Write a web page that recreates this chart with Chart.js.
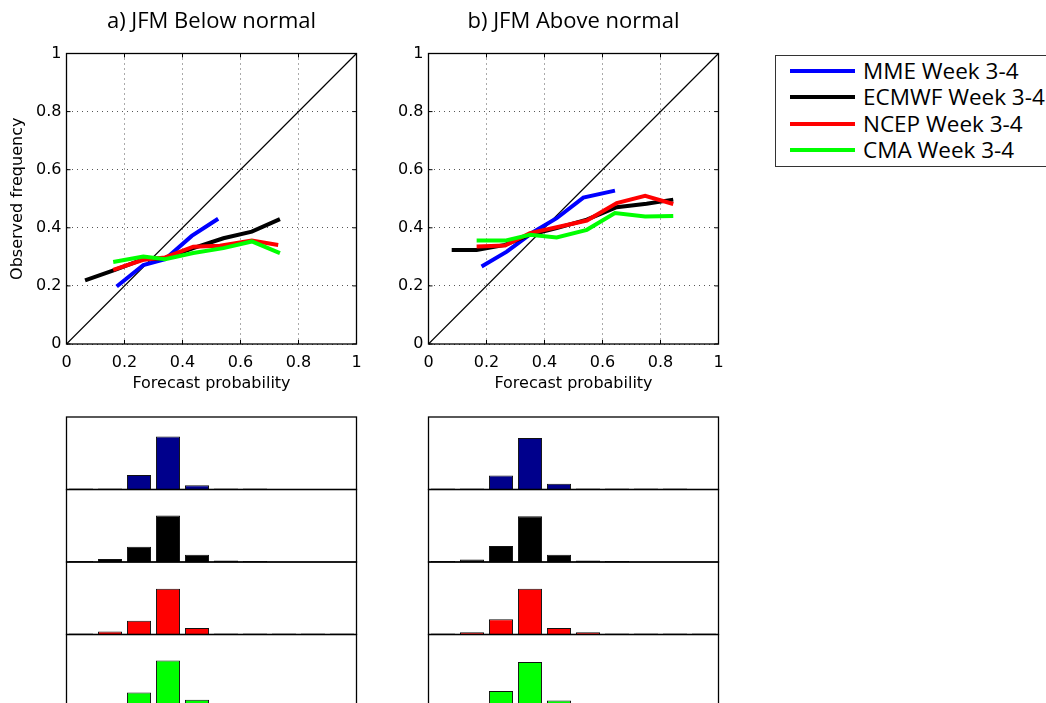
<!DOCTYPE html>
<html>
<head>
<meta charset="utf-8">
<script src="https://cdn.jsdelivr.net/npm/chart.js@4.4.1/dist/chart.umd.min.js"></script>
<style>
  body { margin: 0; background: #fff; width: 1046px; height: 703px; overflow: hidden; position: relative; }
  canvas { position: absolute; }
  #legend {
    position: absolute; left: 775px; top: 55px; width: 300px; height: 112px;
    border: 1px solid #333; box-sizing: border-box;
    font-family: 'Open Sans', sans-serif; font-size: 22.5px; color: #000;
  }
  #legend .row { position: absolute; left: 0; height: 26px; line-height: 26px; white-space: nowrap; }
  #legend .swatch { position: absolute; left: 14px; top: 11px; width: 65px; height: 4px; }
  #legend .label { position: absolute; left: 87px; top: 0; }
</style>
</head>
<body>
<canvas id="relBelow" width="380" height="400" style="left:0;top:0"></canvas>
<canvas id="relAbove" width="380" height="400" style="left:362px;top:0"></canvas>
<div id="legend"></div>

<script>
// Reliability curves: forecast probability (x) vs observed frequency (y)
const seriesNames = ['MME Week 3-4', 'ECMWF Week 3-4', 'NCEP Week 3-4', 'CMA Week 3-4'];
const lineColors = ['#0000ff', '#000000', '#ff0000', '#00ff00'];
const barColors = ['#00008c', '#000000', '#ff0000', '#00ff00'];

// a) JFM Below normal
const belowMmeX   = [0.173, 0.265, 0.34, 0.432, 0.523];
const belowMmeY   = [0.198, 0.272, 0.292, 0.372, 0.431];
const belowEcmwfX = [0.064, 0.167, 0.265, 0.34, 0.437, 0.541, 0.639, 0.736];
const belowEcmwfY = [0.219, 0.255, 0.292, 0.295, 0.33, 0.364, 0.387, 0.43];
const belowNcepX  = [0.161, 0.265, 0.34, 0.437, 0.529, 0.639, 0.73];
const belowNcepY  = [0.255, 0.29, 0.298, 0.335, 0.338, 0.356, 0.341];
const belowCmaX   = [0.161, 0.265, 0.34, 0.437, 0.541, 0.639, 0.736];
const belowCmaY   = [0.282, 0.301, 0.292, 0.313, 0.33, 0.353, 0.313];

// b) JFM Above normal
const aboveMmeX   = [0.183, 0.27, 0.356, 0.442, 0.534, 0.643];
const aboveMmeY   = [0.267, 0.318, 0.382, 0.433, 0.504, 0.528];
const aboveEcmwfX = [0.08, 0.166, 0.264, 0.35, 0.442, 0.546, 0.649, 0.752, 0.844];
const aboveEcmwfY = [0.324, 0.324, 0.341, 0.376, 0.399, 0.428, 0.471, 0.483, 0.497];
const aboveNcepX  = [0.166, 0.264, 0.35, 0.442, 0.546, 0.649, 0.747, 0.844];
const aboveNcepY  = [0.336, 0.339, 0.382, 0.402, 0.425, 0.485, 0.51, 0.482];
const aboveCmaX   = [0.166, 0.264, 0.35, 0.442, 0.546, 0.643, 0.747, 0.844];
const aboveCmaY   = [0.356, 0.356, 0.376, 0.367, 0.393, 0.451, 0.439, 0.441];

// Forecast-probability histograms, 10 bins of width 0.1
const binCenters = [0.05, 0.15, 0.25, 0.35, 0.45, 0.55, 0.65, 0.75, 0.85, 0.95];
const belowMmeHist   = [0.004, 0.01, 0.20, 0.73, 0.06, 0.008, 0.004, null, null, null];
const belowEcmwfHist = [0.006, 0.04, 0.21, 0.64, 0.10, 0.02, 0.004, null, null, null];
const belowNcepHist  = [0.01, 0.04, 0.19, 0.63, 0.09, 0.015, 0.005, 0.003, 0.003, 0.003];
const belowCmaHist   = [0.005, 0.03, 0.20, 0.64, 0.10, 0.02, 0.005, null, null, null];
const aboveMmeHist   = [0.004, 0.005, 0.194, 0.71, 0.08, 0.01, 0.004, 0.004, 0.004, null];
const aboveEcmwfHist = [0.004, 0.035, 0.22, 0.63, 0.10, 0.02, 0.006, null, null, null];
const aboveNcepHist  = [0.004, 0.03, 0.21, 0.63, 0.09, 0.03, 0.01, 0.005, 0.004, 0.004];
const aboveCmaHist   = [0.004, 0.02, 0.22, 0.62, 0.09, 0.02, 0.005, null, null, null];

const axisTicks = [0, 0.2, 0.4, 0.6, 0.8, 1];
const tickFont = { family: 'DejaVu Sans', size: 16 };
const tickLabel = v => String(Number(v.toFixed(2)));

const zip = (xs, ys) => xs.map((x, i) => ({ x, y: ys[i] }));

// Box around the plot area with short inward ticks on every side.
const boxPlugin = {
  id: 'box',
  afterDatasetsDraw(chart) {
    const { ctx, chartArea: a, scales } = chart;
    ctx.save();
    ctx.strokeStyle = '#000';
    ctx.lineWidth = 1.3;
    ctx.strokeRect(a.left, a.top, a.right - a.left, a.bottom - a.top);
    if (scales.x && scales.x.options.display !== false) {
      ctx.lineWidth = 1;
      ctx.beginPath();
      axisTicks.forEach(v => {
        const px = scales.x.getPixelForValue(v);
        const py = scales.y.getPixelForValue(v);
        ctx.moveTo(px, a.bottom); ctx.lineTo(px, a.bottom - 4);
        ctx.moveTo(px, a.top); ctx.lineTo(px, a.top + 4);
        ctx.moveTo(a.left, py); ctx.lineTo(a.left + 4, py);
        ctx.moveTo(a.right, py); ctx.lineTo(a.right - 4, py);
      });
      ctx.stroke();
    }
    ctx.restore();
  }
};

function reliabilityChart(id, title, curves, showYTitle) {
  const datasets = [{
    data: [{ x: 0, y: 0 }, { x: 1, y: 1 }],
    borderColor: '#000', borderWidth: 1.2, pointRadius: 0, order: 10
  }];
  curves.forEach((c, i) => datasets.push({
    label: seriesNames[i],
    data: zip(c[0], c[1]),
    borderColor: lineColors[i], borderWidth: 4, pointRadius: 0,
    borderCapStyle: 'butt', borderJoinStyle: 'miter', order: 4 - i
  }));
  new Chart(document.getElementById(id), {
    type: 'scatter',
    data: { datasets: datasets.map(d => ({ ...d, showLine: true, fill: false })) },
    options: {
      responsive: false, animation: false,
      layout: { padding: { left: 0, right: 23.5, top: 0, bottom: 0 } },
      plugins: {
        legend: { display: false }, tooltip: { enabled: false },
        title: {
          display: true, text: title, fullSize: false, color: '#000',
          font: { family: 'Open Sans', size: 22, weight: 'normal' },
          padding: { top: 9, bottom: 18.1 }
        }
      },
      scales: {
        x: {
          type: 'linear', min: 0, max: 1,
          afterFit: s => { s.height = 56; },
          ticks: { stepSize: 0.2, font: tickFont, color: '#000', padding: 9, maxRotation: 0, callback: tickLabel },
          grid: { color: '#555', drawTicks: false },
          border: { display: false, dash: [1, 4] },
          title: { display: true, text: 'Forecast probability', font: tickFont, color: '#000', padding: { top: 0, bottom: 6.5 } }
        },
        y: {
          type: 'linear', min: 0, max: 1,
          afterFit: s => { s.width = 66.5; },
          ticks: { stepSize: 0.2, font: tickFont, color: '#000', padding: 5, callback: tickLabel },
          grid: { color: '#555', drawTicks: false },
          border: { display: false, dash: [1, 4] },
          title: { display: showYTitle, text: 'Observed frequency', font: tickFont, color: '#000', padding: { top: 8.5, bottom: 0 } }
        }
      }
    },
    plugins: [boxPlugin]
  });
}

reliabilityChart('relBelow', 'a) JFM Below normal',
  [[belowMmeX, belowMmeY], [belowEcmwfX, belowEcmwfY], [belowNcepX, belowNcepY], [belowCmaX, belowCmaY]], true);
reliabilityChart('relAbove', 'b) JFM Above normal',
  [[aboveMmeX, aboveMmeY], [aboveEcmwfX, aboveEcmwfY], [aboveNcepX, aboveNcepY], [aboveCmaX, aboveCmaY]], false);

// Stacked histogram panels under each reliability diagram
const panelTop = 417, panelStep = 72.5;
function histogramChart(left, row, values, color) {
  const top = panelTop + row * panelStep;
  const canvasTop = Math.floor(top) - 4;
  const cv = document.createElement('canvas');
  cv.width = 299; cv.height = 81;
  cv.style.left = (left - 4.5) + 'px';
  cv.style.top = canvasTop + 'px';
  document.body.appendChild(cv);
  const padTop = top - canvasTop;
  new Chart(cv, {
    type: 'bar',
    data: {
      labels: binCenters,
      datasets: [{
        data: values, backgroundColor: color, borderColor: '#111', borderWidth: 1,
        borderSkipped: 'start', barPercentage: 0.83, categoryPercentage: 1, minBarLength: 1
      }]
    },
    options: {
      responsive: false, animation: false,
      layout: { padding: { left: 4.5, right: 4.5, top: padTop, bottom: 81 - padTop - panelStep } },
      plugins: { legend: { display: false }, tooltip: { enabled: false } },
      scales: {
        x: { display: false },
        y: { display: false, min: 0, max: 1 }
      }
    },
    plugins: [boxPlugin]
  });
}

[belowMmeHist, belowEcmwfHist, belowNcepHist, belowCmaHist].forEach((v, i) => histogramChart(66.5, i, v, barColors[i]));
[aboveMmeHist, aboveEcmwfHist, aboveNcepHist, aboveCmaHist].forEach((v, i) => histogramChart(428.5, i, v, barColors[i]));

// Legend box
const legend = document.getElementById('legend');
seriesNames.forEach((name, i) => {
  const row = document.createElement('div');
  row.className = 'row';
  row.style.top = (2 + i * 26.4) + 'px';
  row.innerHTML = '<span class="swatch" style="background:' + lineColors[i] + '"></span><span class="label">' + name + '</span>';
  legend.appendChild(row);
});
</script>
</body>
</html>
